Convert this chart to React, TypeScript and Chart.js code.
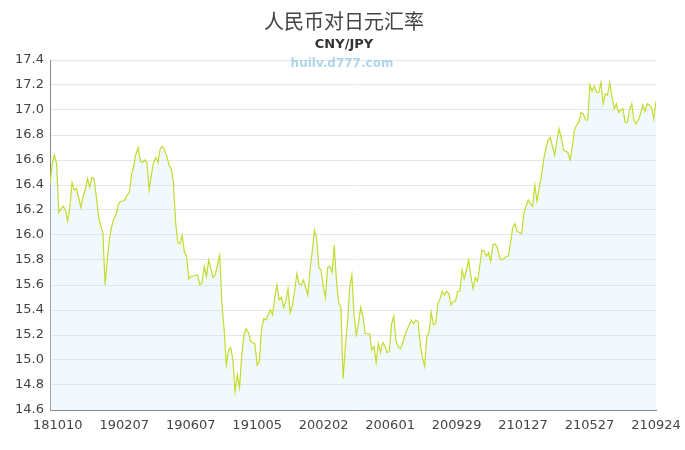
import React, { useEffect, useRef } from 'react';
import { Chart, registerables } from 'chart.js';

Chart.register(...registerables);

const TITLE = '人民币对日元汇率';
const SUBTITLE = 'CNY/JPY';
const WATERMARK = 'huilv.d777.com';

// x axis: days counted from the first plotted date (180926) to the last (210924)
const tickLabels = ['181010', '190207', '190607', '191005', '200202', '200601', '200929', '210127', '210527', '210924'];
const tickDays = [14, 134, 254, 374, 494, 614, 734, 854, 974, 1094];
const spanDays = 1094;

const yMin = 14.6;
const yMax = 17.4;
const yStep = 0.2;

// CNY/JPY rate, evenly spaced samples across the period
const rates = [
  16.41, 16.57, 16.64, 16.57, 16.18, 16.21, 16.23, 16.2, 16.11, 16.22,
  16.42, 16.36, 16.37, 16.3, 16.22, 16.31, 16.36, 16.45, 16.38, 16.46,
  16.45, 16.31, 16.15, 16.07, 16.02, 15.6, 15.8, 15.97, 16.07, 16.13,
  16.17, 16.24, 16.27, 16.27, 16.28, 16.32, 16.34, 16.48, 16.55, 16.65,
  16.7, 16.59, 16.58, 16.6, 16.58, 16.36, 16.48, 16.58, 16.62, 16.58,
  16.69, 16.71, 16.68, 16.63, 16.56, 16.53, 16.42, 16.1, 15.94, 15.93,
  16.0, 15.86, 15.83, 15.65, 15.67, 15.67, 15.68, 15.68, 15.6, 15.62,
  15.75, 15.67, 15.8, 15.73, 15.66, 15.68, 15.76, 15.84, 15.45, 15.25,
  14.96, 15.08, 15.1, 15.0, 14.75, 14.88, 14.78, 15.03, 15.2, 15.25,
  15.22, 15.15, 15.14, 15.13, 14.96, 14.99, 15.25, 15.33, 15.32, 15.36,
  15.4, 15.36, 15.5, 15.6, 15.48, 15.5, 15.42, 15.47, 15.57, 15.38,
  15.44, 15.55, 15.69, 15.61, 15.6, 15.64, 15.58, 15.52, 15.72, 15.87,
  16.04, 15.98, 15.74, 15.72, 15.59, 15.5, 15.74, 15.75, 15.7, 15.92,
  15.63, 15.46, 15.42, 14.85, 15.1, 15.3, 15.58, 15.68, 15.35, 15.2,
  15.29, 15.42, 15.35, 15.21, 15.21, 15.21, 15.08, 15.11, 14.98, 15.13,
  15.06, 15.14, 15.11, 15.06, 15.07, 15.29, 15.35, 15.15, 15.11, 15.09,
  15.13, 15.2, 15.24, 15.28, 15.32, 15.29, 15.32, 15.31, 15.13, 15.02,
  14.95, 15.19, 15.22, 15.38, 15.28, 15.29, 15.45, 15.49, 15.55, 15.52,
  15.55, 15.53, 15.44, 15.47, 15.47, 15.55, 15.55, 15.72, 15.65, 15.72,
  15.8, 15.67, 15.57, 15.66, 15.63, 15.75, 15.88, 15.87, 15.83, 15.86,
  15.79, 15.92, 15.93, 15.9, 15.82, 15.8, 15.81, 15.83, 15.83, 15.94,
  16.06, 16.09, 16.03, 16.02, 16.01, 16.17, 16.23, 16.28, 16.25, 16.23,
  16.4, 16.27, 16.38, 16.47, 16.6, 16.69, 16.76, 16.78, 16.71, 16.64,
  16.75, 16.85, 16.78, 16.68, 16.67, 16.66, 16.6, 16.7, 16.84, 16.88,
  16.9, 16.98, 16.97, 16.92, 16.92, 17.2, 17.15, 17.19, 17.14, 17.14,
  17.22, 17.05, 17.13, 17.12, 17.22, 17.11, 17.01, 17.05, 16.98, 17.0,
  17.01, 16.9, 16.9, 17.0, 17.05, 16.92, 16.89, 16.92, 16.97, 17.04,
  16.99, 17.05, 17.04, 17.02, 16.93, 17.07,
];

const TICK_FONT = { family: '"DejaVu Sans", sans-serif', size: 13 };

export default function App() {
  const ref = useRef<HTMLCanvasElement | null>(null);

  useEffect(() => {
    if (!ref.current) return;
    const step = spanDays / (rates.length - 1);
    const points = rates.map((v, i) => ({ x: i * step, y: v }));

    const headerPlugin = {
      id: 'header',
      afterDraw(chart: any) {
        const ctx = chart.ctx;
        ctx.save();
        ctx.textAlign = 'center';
        ctx.textBaseline = 'middle';
        ctx.fillStyle = '#444';
        ctx.font = '20px "Noto Sans CJK SC", sans-serif';
        ctx.fillText(TITLE, 344, 21);
        ctx.textBaseline = 'alphabetic';
        ctx.fillStyle = '#333';
        ctx.font = 'bold 13px "DejaVu Sans", sans-serif';
        ctx.fillText(SUBTITLE, 344, 48);
        ctx.fillStyle = 'rgba(110,180,225,0.55)';
        ctx.font = 'bold 12px "DejaVu Sans", sans-serif';
        ctx.fillText(WATERMARK, 342, 67);
        ctx.restore();
      },
    };

    const chart = new Chart(ref.current, {
      type: 'line',
      data: {
        datasets: [
          {
            label: SUBTITLE,
            data: points,
            borderColor: '#c2dc2c',
            borderWidth: 1.2,
            fill: 'start',
            backgroundColor: 'rgba(205,230,250,0.28)',
            pointRadius: 0,
            tension: 0,
          },
        ],
      },
      options: {
        animation: false,
        responsive: true,
        maintainAspectRatio: false,
        layout: { padding: { top: 60, right: 29, left: 0, bottom: 0 } },
        plugins: {
          legend: { display: false },
          title: { display: false },
          tooltip: { enabled: false },
        },
        scales: {
          x: {
            type: 'linear',
            min: 0,
            max: spanDays,
            grid: { display: false, drawTicks: false },
            border: { display: true, color: '#888', width: 1 },
            afterBuildTicks: (scale: any) => {
              scale.ticks = tickDays.map((v) => ({ value: v }));
            },
            afterFit: (scale: any) => {
              scale.height = 40;
              scale.paddingLeft = 0;
              scale.paddingRight = 0;
            },
            ticks: {
              autoSkip: false,
              maxRotation: 0,
              padding: 8,
              color: '#444',
              font: TICK_FONT,
              callback: (v: any) => {
                const k = tickDays.indexOf(Number(v));
                return k >= 0 ? tickLabels[k] : '';
              },
            },
          },
          y: {
            min: yMin,
            max: yMax,
            grid: { color: '#e6e6e6', drawTicks: false },
            border: { display: true, color: '#888', width: 1 },
            afterFit: (scale: any) => {
              scale.width = 50;
            },
            ticks: {
              stepSize: yStep,
              padding: 6,
              color: '#444',
              font: TICK_FONT,
              callback: (v: any) => Number(v).toFixed(1),
            },
          },
        },
      },
      plugins: [headerPlugin],
    });

    return () => chart.destroy();
  }, []);

  return (
    <div style={{ position: 'fixed', left: 0, top: 0, width: 685, height: 450, background: '#fff' }}>
      <canvas ref={ref} />
    </div>
  );
}
